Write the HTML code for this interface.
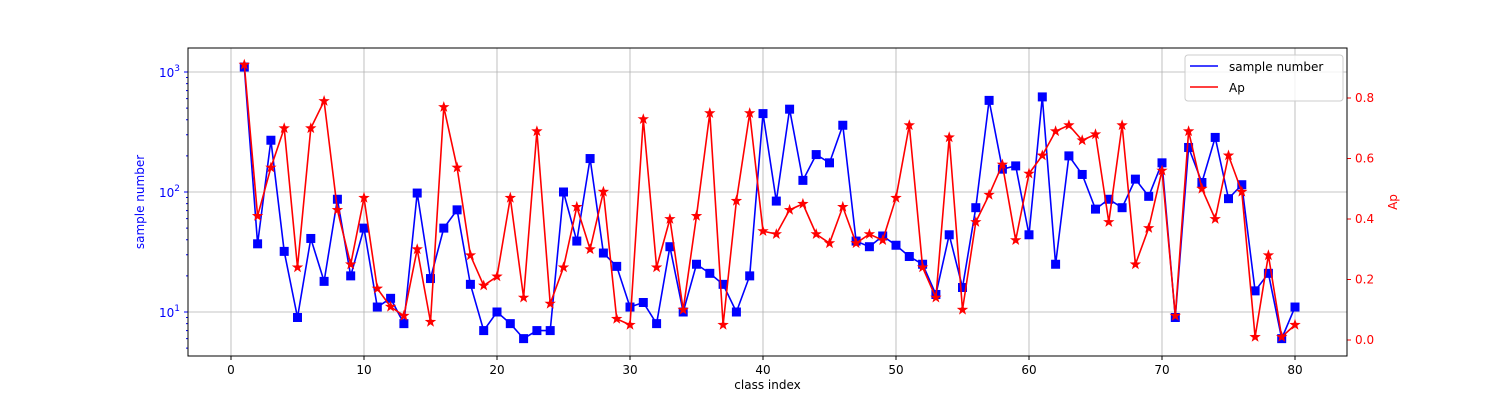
<!DOCTYPE html>
<html><head><meta charset="utf-8"><style>
body{margin:0;background:#fff;font-family:"DejaVu Sans","Liberation Sans",sans-serif;}
svg{display:block}
</style></head><body>
<svg id="chart" width="1500" height="400" xmlns="http://www.w3.org/2000/svg" font-family="DejaVu Sans, Liberation Sans, sans-serif"></svg>
<script>
const classIndex = Array.from({length:80},(_,i)=>i+1);
const sampleNumber = [1100,37,270,32,9,41,18,87,20,50,11,13,8,98,19,50,71,17,7,10,8,6,7,7,100,39,190,31,24,11,12,8,35,10,25,21,17,10,20,450,84,490,125,205,175,360,39,35,43,36,29,25,14,44,16,74,580,155,165,44,620,25,200,140,72,87,74,128,92,175,9,235,120,285,88,115,15,21,6,11];
const apValues = [0.91,0.41,0.57,0.70,0.24,0.70,0.79,0.43,0.25,0.47,0.17,0.11,0.08,0.30,0.06,0.77,0.57,0.28,0.18,0.21,0.47,0.14,0.69,0.12,0.24,0.44,0.30,0.49,0.07,0.05,0.73,0.24,0.40,0.10,0.41,0.75,0.05,0.46,0.75,0.36,0.35,0.43,0.45,0.35,0.32,0.44,0.32,0.35,0.33,0.47,0.71,0.24,0.14,0.67,0.10,0.39,0.48,0.58,0.33,0.55,0.61,0.69,0.71,0.66,0.68,0.39,0.71,0.25,0.37,0.56,0.08,0.69,0.50,0.40,0.61,0.49,0.01,0.28,0.01,0.05];
const xTicks = [0,10,20,30,40,50,60,70,80];
const leftTicks = [1,2,3];
const rightTicks = [0,0.2,0.4,0.6,0.8];

const svg=document.getElementById('chart');
const NS='http://www.w3.org/2000/svg';
const L=188,R=1347,T=48,B=356;
const xs=v=>231+(v)*(1295-231)/80;
const yl=v=>312-(Math.log10(v)-1)*120;
const yr=v=>340-v*302.5;
function mk(tag,attrs,parent){const e=document.createElementNS(NS,tag);for(const k in attrs)e.setAttribute(k,attrs[k]);(parent||svg).appendChild(e);return e;}
function txt(s,attrs){const e=mk('text',attrs);e.textContent=s;return e;}

// grid
xTicks.forEach(t=>{const g=mk('line',{x1:xs(t),x2:xs(t),y1:T,y2:B,stroke:'#b0b0b0','stroke-width':0.8});

});
leftTicks.forEach(p=>{const g=mk('line',{x1:L,x2:R,y1:yl(Math.pow(10,p)),y2:yl(Math.pow(10,p)),stroke:'#b0b0b0','stroke-width':0.8});

});

// x ticks
xTicks.forEach(t=>{mk('line',{x1:xs(t),x2:xs(t),y1:B,y2:B+4,stroke:'#000'});
const l=txt(String(t),{x:xs(t),y:B+18,'font-size':12,'text-anchor':'middle'});

});
const xt=txt('class index',{x:(L+R)/2,y:B+33,'font-size':12,'text-anchor':'middle'});



// left log ticks
for(let d=0;d<=3;d++){for(let m=1;m<10;m++){const v=m*Math.pow(10,d);const y=yl(v);if(y<T||y>B)continue;
mk('line',{x1:L-(m===1?4:2),x2:L,y1:y,y2:y,stroke:'blue'});}}
leftTicks.forEach(p=>{const y=yl(Math.pow(10,p));
const l=mk('text',{x:L-8,y:y+5,'font-size':12,'text-anchor':'end',fill:'blue'});


l.innerHTML='10<tspan dy="-6" font-size="9">'+p+'</tspan>';});
const yt=txt('sample number',{x:0,y:0,'font-size':12,'text-anchor':'middle',fill:'blue',transform:'translate(144,202) rotate(-90)'});



// right ticks
rightTicks.forEach(t=>{const y=yr(t);mk('line',{x1:R,x2:R+4,y1:y,y2:y,stroke:'red'});
const l=txt(t.toFixed(1),{x:R+8,y:y+4,'font-size':12,fill:'red'});

});
const rt=txt('Ap',{x:0,y:0,'font-size':12,'text-anchor':'middle',fill:'red',transform:'translate(1397,202) rotate(-90)'});



// series
const bl=mk('polyline',{points:classIndex.map((c,i)=>xs(c)+','+yl(sampleNumber[i])).join(' '),fill:'none',stroke:'blue','stroke-width':1.6});


classIndex.forEach((c,i)=>{const m=mk('rect',{x:xs(c)-4.5,y:yl(sampleNumber[i])-4.5,width:9,height:9,fill:'blue'});

});
const rl=mk('polyline',{points:classIndex.map((c,i)=>xs(c)+','+yr(apValues[i])).join(' '),fill:'none',stroke:'red','stroke-width':1.6});


function star(cx,cy,r){let p=[];for(let k=0;k<10;k++){const a=-Math.PI/2+k*Math.PI/5;const rr=k%2?r*0.4:r;p.push((cx+rr*Math.cos(a)).toFixed(1)+','+(cy+rr*Math.sin(a)).toFixed(1));}return p.join(' ');}
classIndex.forEach((c,i)=>{const m=mk('polygon',{points:star(xs(c),yr(apValues[i]),6),fill:'red'});

});

// frame
const fr=mk('rect',{x:L,y:T,width:R-L,height:B-T,fill:'none',stroke:'#000','stroke-width':1});



// legend
const lg=mk('g',{});


mk('rect',{x:1185,y:55,width:158,height:46,rx:3,fill:'#fff','fill-opacity':0.8,stroke:'#ccc'},lg);
mk('line',{x1:1190,x2:1218,y1:66,y2:66,stroke:'blue','stroke-width':1.6},lg);
const e1=mk('text',{x:1229,y:71,'font-size':12},lg);e1.textContent='sample number';


mk('line',{x1:1190,x2:1218,y1:87,y2:87,stroke:'red','stroke-width':1.6},lg);
const e2=mk('text',{x:1229,y:92,'font-size':12},lg);e2.textContent='Ap';


</script>
</body></html>
